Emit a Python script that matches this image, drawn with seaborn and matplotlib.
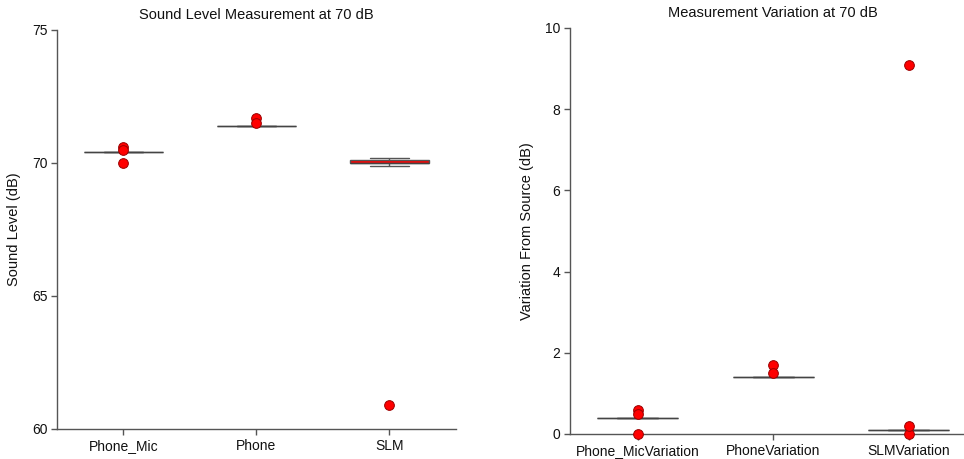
import numpy as np
import pandas as pd
import matplotlib
matplotlib.use("Agg")
import matplotlib.pyplot as plt
import seaborn as sns

# ---- data ----
level_categories = ["Phone_Mic", "Phone", "SLM"]
phone_mic_level = [70.4, 70.4, 70.4, 70.4, 70.4, 70.4, 70.4, 70.6, 70.5, 70.0]
phone_level = [71.4, 71.4, 71.4, 71.4, 71.4, 71.4, 71.4, 71.4, 71.7, 71.5]
slm_level = [60.9, 69.9, 70.0, 70.0, 70.0, 70.1, 70.1, 70.1, 70.2]

var_categories = ["Phone_MicVariation", "PhoneVariation", "SLMVariation"]
phone_mic_var = [0.4, 0.4, 0.4, 0.4, 0.4, 0.4, 0.4, 0.6, 0.5, 0.0]
phone_var = [1.4, 1.4, 1.4, 1.4, 1.4, 1.4, 1.4, 1.4, 1.7, 1.5]
slm_var = [0.1, 0.1, 0.1, 0.1, 0.1, 0.1, 0.1, 0.0, 0.2, 9.1]

level_ticks = [60, 65, 70, 75]
var_ticks = [0, 2, 4, 6, 8, 10]


def long_form(cats, series):
    rows = []
    for c, vals in zip(cats, series):
        for v in vals:
            rows.append((c, v))
    return pd.DataFrame(rows, columns=["group", "value"])


df_level = long_form(level_categories, [phone_mic_level, phone_level, slm_level])
df_var = long_form(var_categories, [phone_mic_var, phone_var, slm_var])

sns.set_theme(style="white")
plt.rcParams["font.family"] = ["Liberation Sans", "DejaVu Sans"]

fig = plt.figure(figsize=(9.64, 4.59), dpi=100)
ax1 = fig.add_axes([0.0591, 0.0654, 0.4139, 0.8693])
ax2 = fig.add_axes([0.5913, 0.0545, 0.4217, 0.8845])

spine_col = "#555555"
box_kw = dict(
    width=0.6, color="red", linecolor="#555555", linewidth=1.0,
    whis=1.5, saturation=1,
    flierprops=dict(marker="o", markerfacecolor="red",
                    markeredgecolor="#990000", markersize=7,
                    markeredgewidth=0.7, clip_on=False, zorder=5),
    medianprops=dict(color="#444444", linewidth=1.0),
)

sns.boxplot(data=df_level, x="group", y="value", order=level_categories,
            ax=ax1, **box_kw)
sns.boxplot(data=df_var, x="group", y="value", order=var_categories,
            ax=ax2, **box_kw)

for ax, ticks, ylabel, title in [
    (ax1, level_ticks, "Sound Level (dB)", "Sound Level Measurement at 70 dB"),
    (ax2, var_ticks, "Variation From Source (dB)", "Measurement Variation at 70 dB"),
]:
    ax.set_xlim(-0.5, 2.5)
    ax.set_ylim(ticks[0], ticks[-1])
    ax.set_yticks(ticks)
    ax.set_xlabel("")
    ax.set_ylabel(ylabel, fontsize=10.5, color="#111111", labelpad=8)
    ax.set_title(title, fontsize=10.5, color="#111111", pad=8)
    for s in ["top", "right"]:
        ax.spines[s].set_visible(False)
    for s in ["left", "bottom"]:
        ax.spines[s].set_color(spine_col)
        ax.spines[s].set_linewidth(1.0)
    ax.tick_params(axis="both", which="major", direction="out", length=4,
                   width=1.0, color=spine_col, labelsize=10,
                   labelcolor="#111111", left=True, bottom=True, pad=3)
    ax.grid(False)

fig.savefig("out.png", dpi=100, facecolor="white")
